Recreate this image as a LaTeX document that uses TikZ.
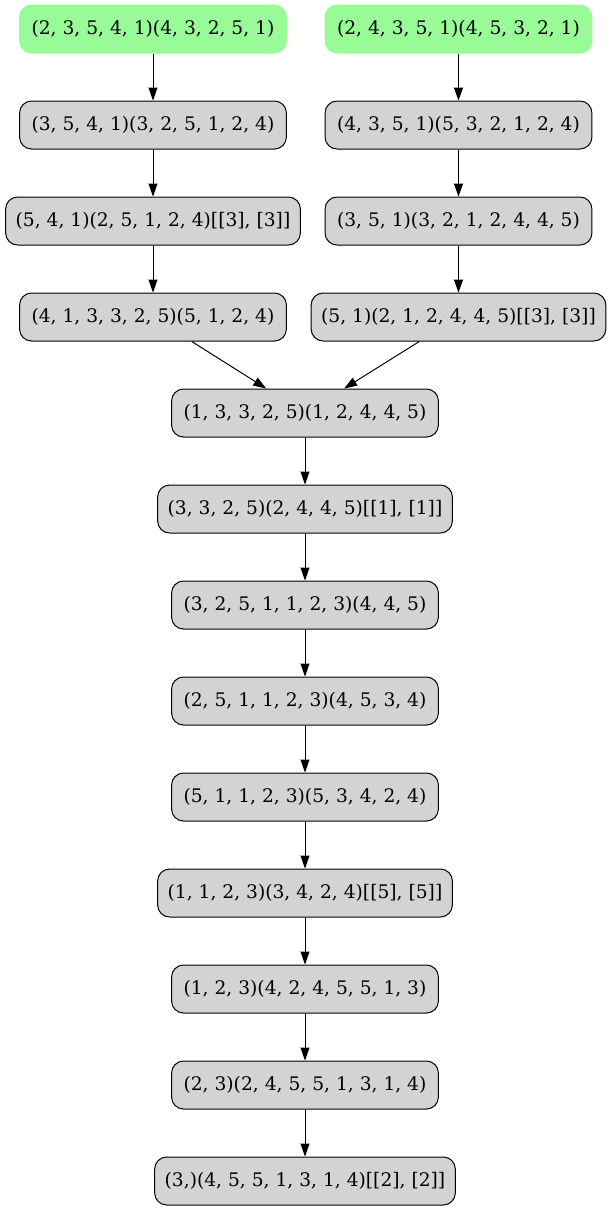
\documentclass[tikz,border=0pt]{standalone}
\usepackage{fontspec}
\setmainfont{DejaVu Serif}
\usetikzlibrary{arrows.meta}
\definecolor{palegreen}{HTML}{98FB98}
\definecolor{graybox}{HTML}{D3D3D3}
\begin{document}
\begin{tikzpicture}[x=1pt,y=-1pt,
  box/.style={draw=black, line width=1pt, fill=graybox, rounded corners=12pt,
    minimum height=48pt, inner xsep=12pt, inner ysep=0pt,
    font=\fontsize{18.67}{22}\selectfont},
  widebox/.style={box, inner xsep=10pt},
  startbox/.style={box, draw=palegreen, fill=palegreen},
  edge/.style={-{Triangle[length=13pt,width=9pt]}, line width=1pt}]
\useasboundingbox (0,0) rectangle (612,1211);
% left column
\node[startbox] (l1) at (153,29) {(2, 3, 5, 4, 1)(4, 3, 2, 5, 1)};
\node[box] (l2) at (153,125) {(3, 5, 4, 1)(3, 2, 5, 1, 2, 4)};
\node[widebox] (l3) at (153,221) {(5, 4, 1)(2, 5, 1, 2, 4)[[3], [3]]};
\node[box] (l4) at (153,317) {(4, 1, 3, 3, 2, 5)(5, 1, 2, 4)};
% right column
\node[startbox] (r1) at (458.5,29) {(2, 4, 3, 5, 1)(4, 5, 3, 2, 1)};
\node[box] (r2) at (458.5,125) {(4, 3, 5, 1)(5, 3, 2, 1, 2, 4)};
\node[box] (r3) at (458.5,221) {(3, 5, 1)(3, 2, 1, 2, 4, 4, 5)};
\node[widebox] (r4) at (458.5,317) {(5, 1)(2, 1, 2, 4, 4, 5)[[3], [3]]};
% centre column
\node[box] (c5) at (305,413) {(1, 3, 3, 2, 5)(1, 2, 4, 4, 5)};
\node[widebox] (c6) at (305,509) {(3, 3, 2, 5)(2, 4, 4, 5)[[1], [1]]};
\node[box] (c7) at (305,605) {(3, 2, 5, 1, 1, 2, 3)(4, 4, 5)};
\node[box] (c8) at (305,701) {(2, 5, 1, 1, 2, 3)(4, 5, 3, 4)};
\node[box] (c9) at (305,797) {(5, 1, 1, 2, 3)(5, 3, 4, 2, 4)};
\node[widebox] (c10) at (305,893) {(1, 1, 2, 3)(3, 4, 2, 4)[[5], [5]]};
\node[box] (c11) at (305,989) {(1, 2, 3)(4, 2, 4, 5, 5, 1, 3)};
\node[box] (c12) at (305,1085) {(2, 3)(2, 4, 5, 5, 1, 3, 1, 4)};
\node[widebox] (c13) at (305,1181) {(3,)(4, 5, 5, 1, 3, 1, 4)[[2], [2]]};
% edges
\draw[edge] (l1) -- (l2);
\draw[edge] (l2) -- (l3);
\draw[edge] (l3) -- (l4);
\draw[edge] (r1) -- (r2);
\draw[edge] (r2) -- (r3);
\draw[edge] (r3) -- (r4);
\draw[edge] (l4) -- (c5);
\draw[edge] (r4) -- (c5);
\draw[edge] (c5) -- (c6);
\draw[edge] (c6) -- (c7);
\draw[edge] (c7) -- (c8);
\draw[edge] (c8) -- (c9);
\draw[edge] (c9) -- (c10);
\draw[edge] (c10) -- (c11);
\draw[edge] (c11) -- (c12);
\draw[edge] (c12) -- (c13);
\end{tikzpicture}
\end{document}
